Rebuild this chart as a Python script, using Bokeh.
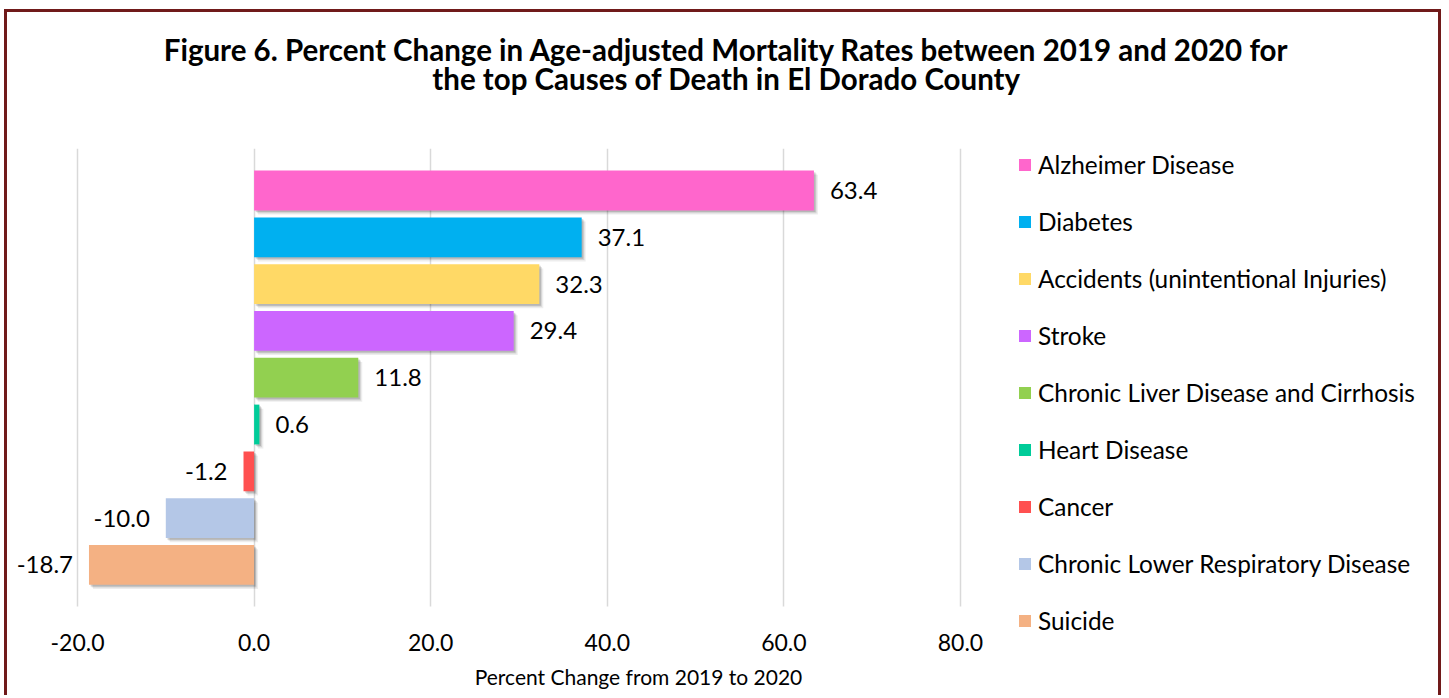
from bokeh.plotting import figure
from bokeh.models import (ColumnDataSource, Range1d, Legend, LegendItem, Grid,
                          Label, FixedTicker, NumeralTickFormatter)
from bokeh.transform import dodge
from bokeh.core.properties import value
from bokeh.embed import file_html
from bokeh.resources import INLINE

# ---- data ----
causes = ["Alzheimer Disease", "Diabetes", "Accidents (unintentional Injuries)", "Stroke",
          "Chronic Liver Disease and Cirrhosis", "Heart Disease", "Cancer",
          "Chronic Lower Respiratory Disease", "Suicide"]
pct_change = [63.4, 37.1, 32.3, 29.4, 11.8, 0.6, -1.2, -10.0, -18.7]
bar_colors = ["#FF66CC", "#00B0F0", "#FFD966", "#CC66FF", "#92D050",
              "#00CC99", "#FF5050", "#B4C7E7", "#F4B183"]
x_ticks = [-20, 0, 20, 40, 60, 80]
title_lines = ["Figure 6. Percent Change in Age-adjusted Mortality Rates between 2019 and 2020 for",
               "the top Causes of Death in El Dorado County"]
x_label = "Percent Change from 2019 to 2020"

FONT = "Lato"
TXT = "#000000"
BORDER = "#701A1A"
W, H = 1437, 686

# ---- layout, in canvas pixels ----
FRAME_L, FRAME_R = 3, W                 # plot frame spans the full width (legend lives inside it)
TICK_L, TICK_R = 70, 953                # where the -20 and 80 gridlines sit
FRAME_T, FRAME_B = 136, 626
GRID_T, GRID_B = 136, 594               # vertical extent of the gridlines
ROW0, ROW_STEP = 178, 46.8              # centre of the first bar row, row pitch

ppu = (TICK_R - TICK_L) / (x_ticks[-1] - x_ticks[0])
x_start = x_ticks[0] - (TICK_L - FRAME_L) / ppu
x_end = x_ticks[-1] + (FRAME_R - TICK_R) / ppu

n = len(causes)
ypos = [n - 1 - i for i in range(n)]    # first cause at the top
y_top_val = ypos[0] + (ROW0 - FRAME_T) / ROW_STEP
def y_of(canvas_y):
    return y_top_val - (canvas_y - FRAME_T) / ROW_STEP
y_start = y_of(FRAME_B)

src = ColumnDataSource(dict(
    cause=causes,
    y=ypos,
    val=pct_change,
    zero=[0.0] * n,
    color=bar_colors,
    label=[f"{v:.1f}" for v in pct_change],
    align=["left" if v >= 0 else "right" for v in pct_change],
    xoff=[16 if v >= 0 else -16 for v in pct_change],
))

p = figure(width=W, height=H,
           y_range=Range1d(y_start, y_top_val),
           x_range=Range1d(x_start, x_end),
           output_backend="svg", toolbar_location=None,
           min_border_left=FRAME_L, min_border_right=W - FRAME_R,
           min_border_top=FRAME_T, min_border_bottom=H - FRAME_B)
p.styles = {"margin-left": "4px", "margin-top": "9px",
            "border-left": f"3px solid {BORDER}", "border-top": f"3px solid {BORDER}",
            "border-right": f"3px solid {BORDER}"}
p.outline_line_color = None
p.background_fill_color = "white"
p.border_fill_color = "white"

# gridlines (limited to the plot area of the original)
p.ygrid.grid_line_color = None
xg = p.xgrid[0]
xg.ticker = FixedTicker(ticks=x_ticks)
xg.grid_line_color = "#D9D9D9"
xg.grid_line_width = 1.5
if "cross_bounds" in Grid.properties():
    xg.cross_bounds = (y_of(GRID_B), y_top_val)
else:
    xg.visible = False
    p.segment(x0=x_ticks, x1=x_ticks, y0=[y_of(GRID_B)] * len(x_ticks),
              y1=[y_top_val] * len(x_ticks), line_color="#D9D9D9", line_width=1.5)

# shadows
for dx, dy, a in [(0.45, -0.09, 0.07), (0.3, -0.06, 0.10), (0.18, -0.035, 0.14)]:
    p.hbar(y=dodge("y", dy, range=p.y_range), left=dodge("zero", dx, range=p.x_range),
           right=dodge("val", dx, range=p.x_range), height=0.85, source=src,
           fill_color="black", fill_alpha=a, line_color=None)

bars = p.hbar(y="y", left="zero", right="val", height=0.85, source=src,
              fill_color="color", line_color=None)

p.text(x="val", y="y", text="label", source=src, x_offset="xoff",
       text_align="align", text_baseline="middle",
       text_font=value(FONT), text_font_size="24px", text_color=TXT)

# axes
p.yaxis.visible = False
xa = p.xaxis[0]
xa.ticker = FixedTicker(ticks=x_ticks)
xa.formatter = NumeralTickFormatter(format="0.0")
xa.axis_line_color = None
xa.major_tick_line_color = None
xa.minor_tick_line_color = None
xa.major_tick_out = 0
xa.major_label_standoff = -5
xa.major_label_text_font = FONT
xa.major_label_text_font_size = "23px"
xa.major_label_text_color = TXT

# titles (canvas units, centred like the original chart)
for i, line in enumerate(title_lines):
    p.add_layout(Label(x=716, y=34 + 29 * i, x_units="canvas", y_units="canvas", text=line,
                       text_align="center", text_baseline="alphabetic", text_font=FONT,
                       text_font_size="29.5px", text_font_style="bold", text_color=TXT), "above")
p.add_layout(Label(x=628, y=661, x_units="canvas", y_units="canvas", text=x_label,
                   text_align="center", text_baseline="alphabetic", text_font=FONT,
                   text_font_size="21px", text_color=TXT), "below")

# legend, inside the (wide) frame, to the right of the bars
legend = Legend(items=[LegendItem(label=c, renderers=[bars], index=i) for i, c in enumerate(causes)],
                location=(1010 - FRAME_L, 3), orientation="vertical",
                glyph_width=15, glyph_height=15, label_height=22, spacing=28,
                label_standoff=6, padding=0, margin=0,
                label_text_font=FONT, label_text_font_size="24.4px", label_text_color=TXT,
                border_line_color=None, background_fill_alpha=0)
p.add_layout(legend)

open("out.html", "w").write(file_html(p, INLINE))
